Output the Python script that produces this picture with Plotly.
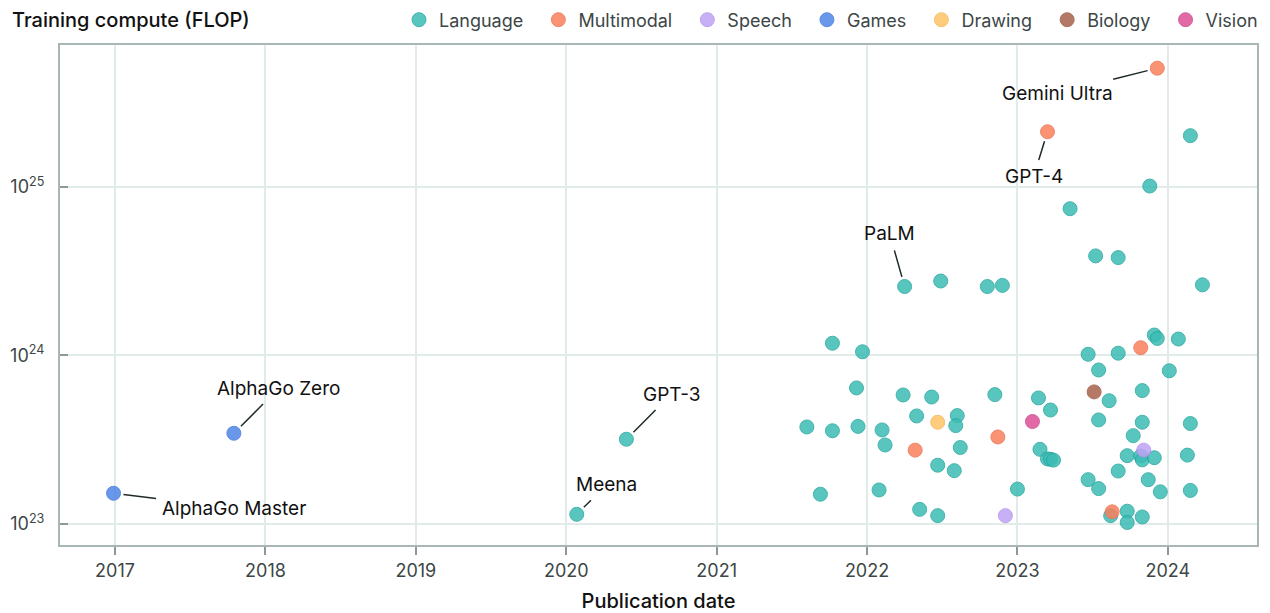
import math
import plotly.graph_objects as go

# ---- data: publication date (decimal year) and training compute (FLOP) ----
language_x = [2020.40, 2020.07, 2022.25, 2022.49, 2022.80, 2022.90, 2023.52, 2023.67, 2024.23,
              2021.77, 2021.97, 2023.91, 2023.93, 2024.07, 2023.47, 2023.67, 2023.54, 2024.01,
              2021.93, 2022.24, 2022.43, 2022.85, 2023.14, 2023.22, 2023.61, 2023.83,
              2021.60, 2021.77, 2021.94, 2022.10, 2022.12, 2022.33, 2022.60, 2022.59, 2022.62,
              2022.47, 2022.58, 2023.15, 2023.20, 2023.22, 2023.24, 2023.54, 2023.83, 2023.77,
              2024.15, 2023.73, 2023.82, 2023.83, 2023.91, 2024.13, 2023.67, 2023.47, 2023.54,
              2023.87, 2023.95, 2024.15, 2021.69, 2022.08, 2023.00, 2022.35, 2022.47, 2023.62,
              2023.73, 2023.73, 2023.83, 2024.15, 2023.88, 2023.35]
language_y = [3.18e23, 1.14e23, 2.56e24, 2.76e24, 2.56e24, 2.60e24, 3.89e24, 3.80e24, 2.62e24,
              1.18e24, 1.05e24, 1.32e24, 1.26e24, 1.25e24, 1.015e24, 1.03e24, 8.19e23, 8.10e23,
              6.41e23, 5.82e23, 5.66e23, 5.85e23, 5.59e23, 4.74e23, 5.38e23, 6.18e23,
              3.76e23, 3.57e23, 3.79e23, 3.61e23, 2.94e23, 4.37e23, 4.39e23, 3.83e23, 2.84e23,
              2.23e23, 2.07e23, 2.77e23, 2.43e23, 2.42e23, 2.39e23, 4.14e23, 4.01e23, 3.34e23,
              3.94e23, 2.54e23, 2.53e23, 2.40e23, 2.47e23, 2.56e23, 2.06e23, 1.83e23, 1.62e23,
              1.83e23, 1.55e23, 1.58e23, 1.50e23, 1.59e23, 1.61e23, 1.22e23, 1.12e23, 1.12e23,
              1.19e23, 1.02e23, 1.10e23, 2.01e25, 1.01e25, 7.41e24]
language_names = {0: "GPT-3", 1: "Meena", 2: "PaLM"}

multimodal_x = [2023.93, 2023.20, 2023.82, 2022.32, 2022.87, 2023.63]
multimodal_y = [5.05e25, 2.12e25, 1.11e24, 2.74e23, 3.28e23, 1.18e23]
multimodal_names = {0: "Gemini Ultra", 1: "GPT-4"}

speech_x = [2023.84, 2022.92]
speech_y = [2.74e23, 1.12e23]

games_x = [2016.99, 2017.79]
games_y = [1.52e23, 3.45e23]
games_names = {0: "AlphaGo Master", 1: "AlphaGo Zero"}

drawing_x = [2022.47]
drawing_y = [4.01e23]

biology_x = [2023.51]
biology_y = [6.07e23]

vision_x = [2023.10]
vision_y = [4.05e23]

year_ticks = [2017, 2018, 2019, 2020, 2021, 2022, 2023, 2024]
y_ticks = [1e23, 1e24, 1e25]
y_tick_text = ["10<sup>23</sup>", "10<sup>24</sup>", "10<sup>25</sup>"]

domains = [
    ("Language", language_x, language_y, "#3cbcb4", "#25a79f"),
    ("Multimodal", multimodal_x, multimodal_y, "#fa7f5c", "#ee7150"),
    ("Speech", speech_x, speech_y, "#bfa3f5", "#b093ee"),
    ("Games", games_x, games_y, "#4f86e6", "#437adb"),
    ("Drawing", drawing_x, drawing_y, "#fec466", "#f4b856"),
    ("Biology", biology_x, biology_y, "#a8624c", "#9c5741"),
    ("Vision", vision_x, vision_y, "#dc4f97", "#d0458b"),
]

FONT = "Inter, 'Noto Sans', sans-serif"
NB = "\u00a0"

# the page body adds an 8px offset; the figure is sized to fit the window
W, H = 1262, 605
ML, MR = 52, 13

fig = go.Figure()
for k, (name, xs, ys, col, lcol) in enumerate(domains):
    pad = NB * 2 if k < len(domains) - 1 else ""
    fig.add_trace(go.Scatter(
        x=xs, y=ys, mode="markers", name=name + pad,
        marker=dict(size=14, color=col, opacity=0.85, line=dict(width=1, color=lcol)),
    ))

# annotations: (x list, y list, index, text, ax, ay)
notes = [
    (multimodal_x, multimodal_y, 0, multimodal_names[0], -100, 25),
    (multimodal_x, multimodal_y, 1, multimodal_names[1], -14, 45),
    (language_x, language_y, 2, language_names[2], -15, -53),
    (language_x, language_y, 0, language_names[0], 45, -45),
    (language_x, language_y, 1, language_names[1], 30, -30),
    (games_x, games_y, 1, games_names[1], 45, -45),
    (games_x, games_y, 0, games_names[0], 120, 15),
]
for xs, ys, i, txt, ax, ay in notes:
    fig.add_annotation(
        x=xs[i], y=math.log10(ys[i]), xref="x", yref="y", text=txt,
        showarrow=True, arrowhead=0, arrowwidth=1.5, arrowcolor="#1f2a2a",
        ax=ax, ay=ay, standoff=10, startstandoff=4,
        font=dict(family=FONT, size=19, color="#111111"),
    )

fig.update_layout(
    width=W, height=H,
    margin=dict(l=ML, r=MR, t=37, b=68, autoexpand=False),
    paper_bgcolor="white", plot_bgcolor="white",
    font=dict(family=FONT, size=17, color="#3c4646"),
    title=dict(text="Training compute (FLOP)", x=4/W, xref="container", xanchor="left",
               y=1 - 12/H, yref="container", yanchor="middle",
               font=dict(family=FONT, size=20, color="#111111", weight=500)),
    legend=dict(orientation="h", x=1255/W, xref="container", xanchor="right",
                y=1 - 12/H, yref="container", yanchor="middle",
                font=dict(family=FONT, size=18, color="#3c4646"),
                itemwidth=30, tracegroupgap=0, bgcolor="rgba(0,0,0,0)"),
    showlegend=True,
    xaxis=dict(range=[2016.634, 2024.593], tickvals=year_ticks,
               ticktext=[str(t) for t in year_ticks], automargin=False,
               showgrid=True, gridcolor="#e1ebea", gridwidth=1.5,
               showline=True, linecolor="#a8b6b5", linewidth=2, mirror=True,
               ticks="outside", ticklen=8, tickcolor="#8a9a99", tickwidth=1.5,
               zeroline=False,
               title=dict(text="Publication date", standoff=14,
                          font=dict(family=FONT, size=20, color="#111111", weight=500)),
               tickfont=dict(family=FONT, size=18, color="#3c4646")),
    yaxis=dict(type="log", range=[22.875, 25.841], tickvals=y_ticks, ticktext=y_tick_text,
               automargin=False,
               showgrid=True, gridcolor="#e1ebea", gridwidth=1.5,
               showline=True, linecolor="#a8b6b5", linewidth=2, mirror=True,
               ticks="inside", ticklen=8, tickcolor="#8a9a99", tickwidth=1.5,
               ticklabelstandoff=10, zeroline=False,
               tickfont=dict(family=FONT, size=18, color="#3c4646")),
)

fig.write_html("out.html")
